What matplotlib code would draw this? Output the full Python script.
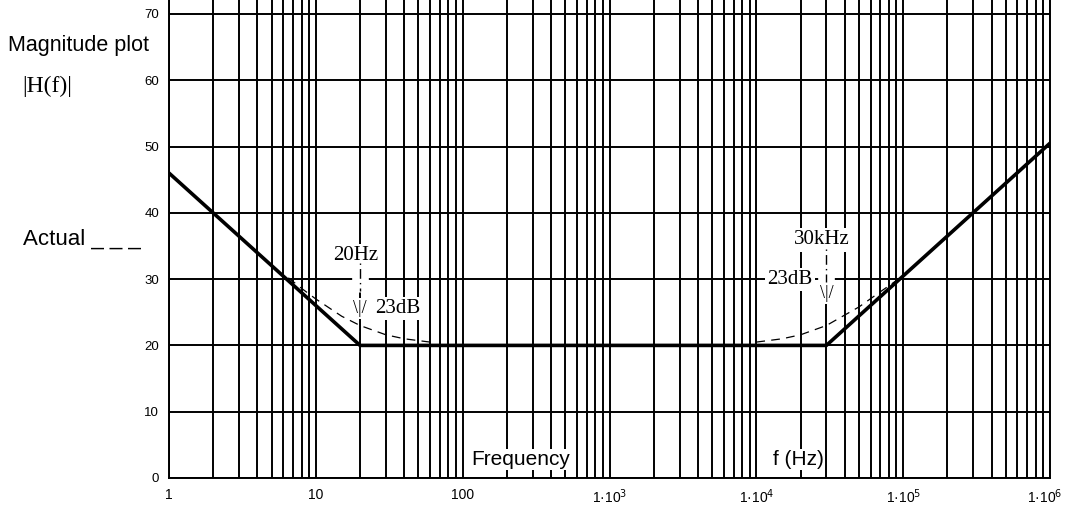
import matplotlib
matplotlib.use("Agg")
import matplotlib.pyplot as plt
import matplotlib.transforms as mtransforms
import numpy as np

# asymptotic (straight line) magnitude, corner points
asym_f = [1, 20, 30000, 1e6]
asym_db = [46.0, 20.0, 20.0, 50.5]

# actual response near the corners
act_lo_f = [6.5, 8, 10, 15, 20, 30, 40, 60]
act_lo_db = [30.2, 28.6, 27.0, 24.4, 23.0, 21.6, 21.0, 20.5]
act_hi_f = [1e4, 1.5e4, 2e4, 3e4, 5e4, 7e4, 1e5]
act_hi_db = [20.5, 21.0, 21.6, 23.0, 25.8, 28.1, 30.5]

xticks = [1, 10, 100, 1e3, 1e4, 1e5, 1e6]
xticklabels = ['1', '10', '100', '1·10$^3$', '1·10$^4$', '1·10$^5$', '1·10$^6$']
yticks = [0, 10, 20, 30, 40, 50, 60, 70]

W, H = 1065, 507
fig = plt.figure(figsize=(W/100, H/100), dpi=100)
ax = fig.add_axes([169/W, (H-478)/H, (1050-169)/W, 478/H])

ax.set_xscale('log')
ax.set_xlim(1, 1e6)
ax.set_ylim(0, 72.1)

# grid at every 1..9 x 10^k and every 10 dB
for k in range(6):
    for m in range(1, 10):
        ax.axvline(m*10**k, color='black', lw=1.4, zorder=1)
ax.axvline(1e6, color='black', lw=1.4, zorder=1)
for y in yticks:
    ax.axhline(y, color='black', lw=1.4, zorder=1)

ax.plot(asym_f, asym_db, color='black', lw=2.6, zorder=5)
ax.plot(act_lo_f, act_lo_db, color='black', lw=0.9, ls=(0, (7, 5)), zorder=5)
ax.plot(act_hi_f, act_hi_db, color='black', lw=0.9, ls=(0, (7, 5)), zorder=5)

ax.spines['top'].set_visible(False)
for s in ['left', 'bottom', 'right']:
    ax.spines[s].set_linewidth(1.4)

ax.set_xticks(xticks)
ax.set_xticklabels(xticklabels, fontsize=10, family='Liberation Sans')
ax.xaxis.set_minor_locator(matplotlib.ticker.NullLocator())
ax.set_yticks(yticks)
ax.set_yticklabels([str(v) for v in yticks], fontsize=9.5, family='Liberation Sans')
ax.tick_params(length=0, pad=7)

# keep the last x label inside the picture
last = ax.get_xticklabels()[-1]
last.set_transform(last.get_transform() + mtransforms.ScaledTranslation(-5/100, 0, fig.dpi_scale_trans))

wb = dict(facecolor='white', edgecolor='none', pad=1.5)
serif = 'Liberation Serif'

# corner annotations: 20 Hz
ax.plot([20, 20], [32.6, 28.0], color='white', lw=12, solid_capstyle='butt', zorder=6)
ax.plot([20, 20], [32.4, 28.2], color='black', lw=1.0, ls=(0, (1, 3, 7, 3)), zorder=7)
ax.text(18.8, 33.6, '20Hz', fontsize=15, family=serif, ha='center', va='center', bbox=wb, zorder=6)
ax.text(20, 25.6, '\\|/', fontsize=13, family=serif, ha='center', va='center', bbox=wb, zorder=6)
ax.text(36, 25.6, '23dB', fontsize=15, family=serif, ha='center', va='center', bbox=wb, zorder=6)

# corner annotations: 30 kHz
ax.plot([30000, 30000], [34.8, 29.4], color='white', lw=12, solid_capstyle='butt', zorder=6)
ax.plot([30000, 30000], [34.6, 29.6], color='black', lw=1.0, ls=(0, (1, 3, 7, 3)), zorder=7)
ax.text(28000, 35.9, '30kHz', fontsize=15, family=serif, ha='center', va='center', bbox=wb, zorder=6)
ax.text(30000, 27.9, '\\|/', fontsize=13, family=serif, ha='center', va='center', bbox=wb, zorder=6)
ax.text(17000, 29.9, '23dB', fontsize=15, family=serif, ha='center', va='center', bbox=wb, zorder=6)

ax.text(250, 2.8, 'Frequency', fontsize=15, family='Liberation Sans', ha='center', va='center',
        bbox=dict(facecolor='white', edgecolor='none', pad=0.5), zorder=6)
ax.text(19500, 2.8, 'f (Hz)', fontsize=15, family='Liberation Sans', ha='center', va='center',
        bbox=dict(facecolor='white', edgecolor='none', pad=0.5), zorder=6)

# left side labels
fig.text(8/W, 1 - 45/H, 'Magnitude plot', fontsize=15.5, family='Liberation Sans', ha='left', va='center')
fig.text(22/W, 1 - 86/H, '|H(f)|', fontsize=17, family=serif, ha='left', va='center')
fig.text(23/W, 1 - 239/H, 'Actual _ _ _', fontsize=16, family='Liberation Sans', ha='left', va='center')

fig.savefig('out.png', dpi=100)
